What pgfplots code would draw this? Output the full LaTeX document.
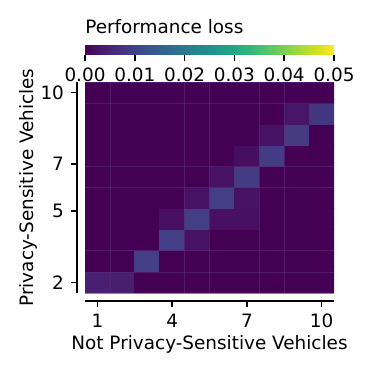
\documentclass[border=0pt]{standalone}
\usepackage{fontspec}
\setmainfont{DejaVu Sans}
\usepackage{pgfplots}
\usepgfplotslibrary{patchplots}
\pgfplotsset{compat=1.18}
\newlength\px
\setlength\px{0.5pt}
\definecolor{cellgrid}{RGB}{92,42,124}

\pgfplotstableread{
x y c
1 1 0.0045
2 1 0.0040
3 1 0
4 1 0
5 1 0
6 1 0
7 1 0
8 1 0
9 1 0
10 1 0
1 2 0
2 2 0
3 2 0.0090
4 2 0
5 2 0
6 2 0
7 2 0
8 2 0
9 2 0
10 2 0
1 3 0
2 3 0
3 3 0
4 3 0.0090
5 3 0.0022
6 3 0
7 3 0
8 3 0
9 3 0
10 3 0
1 4 0
2 4 0
3 4 0
4 4 0.0020
5 4 0.0090
6 4 0.0020
7 4 0.0020
8 4 0
9 4 0
10 4 0
1 5 0
2 5 0
3 5 0
4 5 0
5 5 0.0022
6 5 0.0090
7 5 0.0022
8 5 0
9 5 0
10 5 0
1 6 0
2 6 0
3 6 0
4 6 0
5 6 0
6 6 0.0022
7 6 0.0085
8 6 0
9 6 0
10 6 0
1 7 0
2 7 0
3 7 0
4 7 0
5 7 0
6 7 0
7 7 0.0018
8 7 0.0088
9 7 0
10 7 0
1 8 0
2 8 0
3 8 0
4 8 0
5 8 0
6 8 0
7 8 0
8 8 0.0022
9 8 0.0085
10 8 0
1 9 0
2 9 0
3 9 0
4 9 0
5 9 0
6 9 0
7 9 0
8 9 0
9 9 0.0028
10 9 0.0080
1 10 0
2 10 0
3 10 0
4 10 0
5 10 0
6 10 0
7 10 0
8 10 0
9 10 0
10 10 0
}\lossdata

\begin{document}
\begin{tikzpicture}[font=\fontsize{9.2}{11}\selectfont]
\useasboundingbox (0,0) rectangle (374\px,374\px);
\pgfkeys{/pgf/number format/assume math mode=true}
% heatmap
\begin{axis}[
  at={(85\px,81\px)}, anchor=south west,
  scale only axis, width=249\px, height=211\px,
  xmin=0.5, xmax=10.5, ymin=0.5, ymax=10.5,
  axis lines*=left, axis line shift=8\px,
  axis line style={line width=1.6\px, black},
  axis on top,
  xtick={1,4,7,10},
  ytick={1,4.375,6.625,10}, yticklabels={2,5,7,10},
  tick align=outside, major tick length=6\px,
  tick style={line width=1.6\px, black},
  extra x ticks={1.5,4.5,5.5,7.5,8.5},
  extra y ticks={0.5,1.5,2.5,5.5,6.5,9.5,10.5},
  extra x tick labels={}, extra y tick labels={},
  extra tick style={grid=major, major tick length=0pt},
  grid style={cellgrid, line width=0.7\px, opacity=0.6},
  xlabel={Not Privacy-Sensitive Vehicles},
  ylabel={Privacy-Sensitive Vehicles},
  xlabel style={yshift=12\px},
  ylabel style={yshift=-17\px},
  colormap name=viridis,
  point meta min=0, point meta max=0.05,
]
\addplot[matrix plot*, mesh/cols=10, point meta=explicit] table[x=x, y=y, meta=c] {\lossdata};
\end{axis}
% colorbar
\begin{axis}[
  at={(85\px,319\px)}, anchor=south west,
  scale only axis, width=249\px, height=10\px,
  xmin=0, xmax=0.05, ymin=0, ymax=1,
  axis line style={draw=none},
  ytick=\empty,
  xtick={0,0.01,0.02,0.03,0.04,0.05},
  scaled x ticks=false,
  xtick pos=left,
  xticklabel style={/pgf/number format/fixed, /pgf/number format/zerofill, /pgf/number format/precision=2},
  tick align=outside, major tick length=6\px,
  tick style={line width=1.6\px, black},
  colormap name=viridis,
  point meta min=0, point meta max=0.05,
  every axis title shift=0pt,
  title={Performance loss},
  title style={at={(0,1)}, anchor=base west, inner xsep=0pt, inner ysep=0pt, yshift=11\px},
]
\addplot[patch, patch type=rectangle, shader=interp, point meta=x] coordinates {(0,0) (0.05,0) (0.05,1) (0,1)};
\end{axis}
\end{tikzpicture}
\end{document}
